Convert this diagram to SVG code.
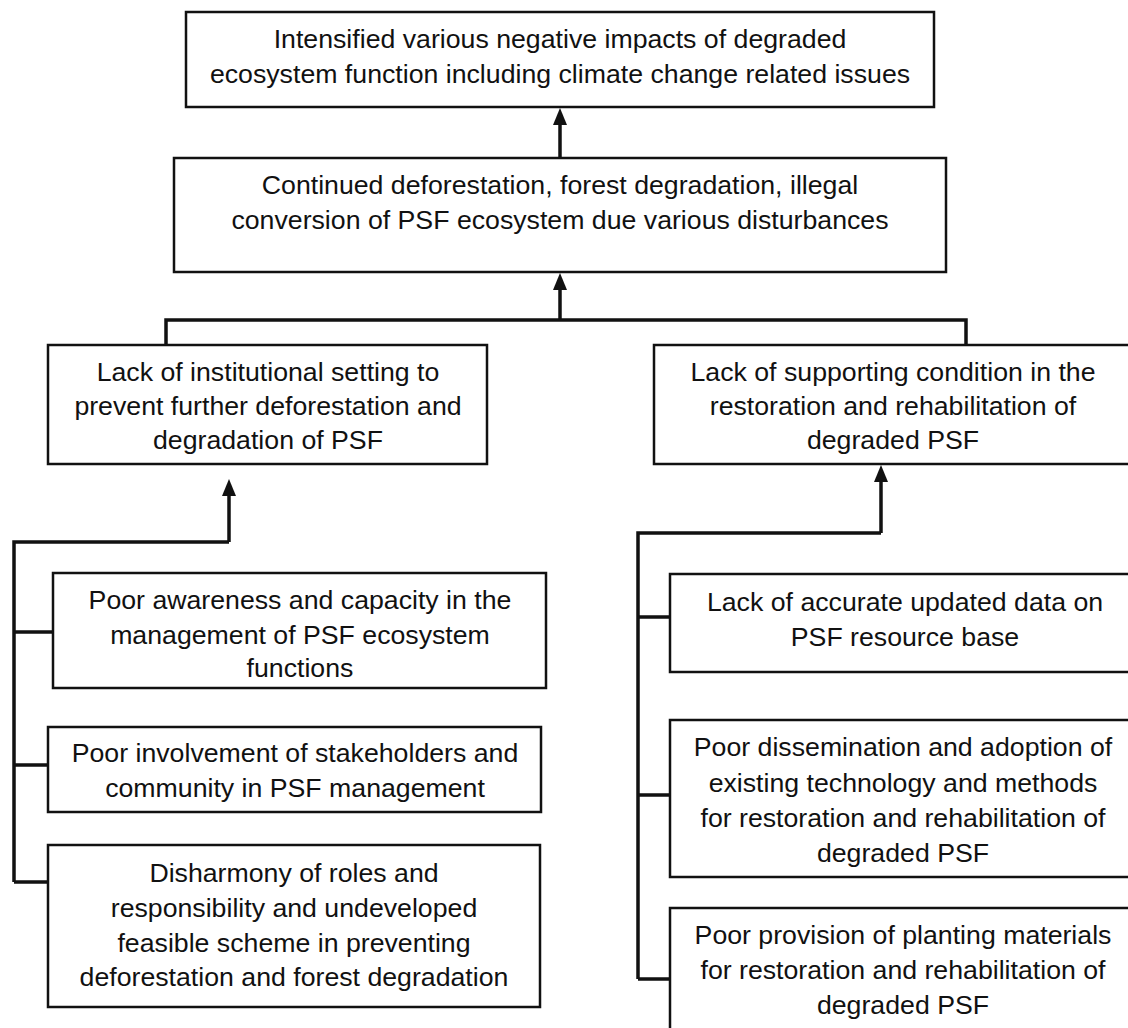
<svg xmlns="http://www.w3.org/2000/svg" width="1128" height="1028" viewBox="0 0 1128 1028">
<style>
.box{fill:#fff;stroke:#111;stroke-width:2.5}
.t{font-family:"Liberation Sans",Arial,Helvetica,sans-serif;font-size:26.7px;fill:#111;text-anchor:middle}
.c{fill:none;stroke:#111;stroke-width:3.5}
.ah{fill:#111}
</style>
<rect width="1128" height="1028" fill="#fff"/>
<g id="connectors">
<path class="c" d="M560 157V124"/>
<path class="ah" d="M560 108L553 125H567Z"/>
<path class="c" d="M560 320V289"/>
<path class="ah" d="M560 273L553 290H567Z"/>
<path class="c" d="M166 345V320H966V345" stroke-width="4"/>
<path class="c" d="M229 542V496"/>
<path class="ah" d="M229 479L222 496H236Z"/>
<path class="c" d="M14 882V542H229"/>
<path class="c" d="M14 632H53M14 765H48M14 882H48"/>
<path class="c" d="M881 533V481"/>
<path class="ah" d="M881 465L874 482H888Z"/>
<path class="c" d="M638 979V533H881"/>
<path class="c" d="M638 617H670M638 795H670M638 979H670"/>
</g>
<g id="n1">
<rect class="box" x="186" y="12" width="748" height="95"/>
<text class="t" x="560" y="48">Intensified various negative impacts of degraded</text>
<text class="t" x="560" y="83">ecosystem function including climate change related issues</text>
</g>
<g id="n2">
<rect class="box" x="174" y="158" width="772" height="114"/>
<text class="t" x="560" y="194">Continued deforestation, forest degradation, illegal</text>
<text class="t" x="560" y="229">conversion of PSF ecosystem due various disturbances</text>
</g>
<g id="n3">
<rect class="box" x="48" y="345" width="439" height="119"/>
<text class="t" x="268" y="381">Lack of institutional setting to</text>
<text class="t" x="268" y="415">prevent further deforestation and</text>
<text class="t" x="268" y="449">degradation of PSF</text>
</g>
<g id="n4">
<rect class="box" x="654" y="345" width="490" height="119"/>
<text class="t" x="893" y="381">Lack of supporting condition in the</text>
<text class="t" x="893" y="415">restoration and rehabilitation of</text>
<text class="t" x="893" y="449">degraded PSF</text>
</g>
<g id="n5">
<rect class="box" x="53" y="573" width="493" height="115"/>
<text class="t" x="300" y="609">Poor awareness and capacity in the</text>
<text class="t" x="300" y="644">management of PSF ecosystem</text>
<text class="t" x="300" y="677">functions</text>
</g>
<g id="n6">
<rect class="box" x="48" y="727" width="493" height="85"/>
<text class="t" x="295" y="762">Poor involvement of stakeholders and</text>
<text class="t" x="295" y="797">community in PSF management</text>
</g>
<g id="n7">
<rect class="box" x="48" y="845" width="492" height="162"/>
<text class="t" x="294" y="882">Disharmony of roles and</text>
<text class="t" x="294" y="917">responsibility and undeveloped</text>
<text class="t" x="294" y="952">feasible scheme in preventing</text>
<text class="t" x="294" y="986">deforestation and forest degradation</text>
</g>
<g id="n8">
<rect class="box" x="670" y="574" width="474" height="98"/>
<text class="t" x="905" y="611">Lack of accurate updated data on</text>
<text class="t" x="905" y="646">PSF resource base</text>
</g>
<g id="n9">
<rect class="box" x="670" y="720" width="474" height="157"/>
<text class="t" x="903" y="756">Poor dissemination and adoption of</text>
<text class="t" x="903" y="792">existing technology and methods</text>
<text class="t" x="903" y="827">for restoration and rehabilitation of</text>
<text class="t" x="903" y="862">degraded PSF</text>
</g>
<g id="n10">
<rect class="box" x="670" y="908" width="474" height="140"/>
<text class="t" x="903" y="944">Poor provision of planting materials</text>
<text class="t" x="903" y="979">for restoration and rehabilitation of</text>
<text class="t" x="903" y="1014">degraded PSF</text>
</g>
</svg>
